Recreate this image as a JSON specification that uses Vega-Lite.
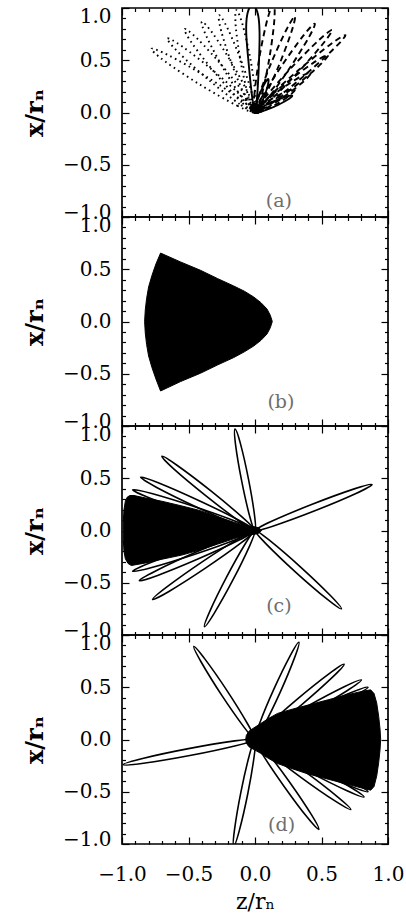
{
"$schema": "https://vega.github.io/schema/vega-lite/v6.json",
"background": "white",
"padding": {"left": 22, "top": 5, "right": 10, "bottom": 3},
"bounds": "flush",
"spacing": 0,
"config": {
  "view": {"stroke": "black", "strokeWidth": 1.7},
  "axis": {"tickColor": "black", "tickWidth": 1.2, "labelFont": "DejaVu Serif", "labelFontSize": 20, "labelColor": "black", "titleFont": "DejaVu Serif", "titleColor": "black", "grid": false, "domain": false, "labelOverlap": false}
},
"datasets": {
"labels": [
 {"p":"a","t":"(a)","z":0.18,"x":-0.85},
 {"p":"b","t":"(b)","z":0.195,"x":-0.77},
 {"p":"c","t":"(c)","z":0.18,"x":-0.72},
 {"p":"d","t":"(d)","z":0.2,"x":-0.82}
],
"fills": [
 {"p":"a","k":"fa","i":0,"z":0.06,"x":0.03},{"p":"a","k":"fa","i":1,"z":0.04,"x":0.07},{"p":"a","k":"fa","i":2,"z":0.0,"x":0.09},{"p":"a","k":"fa","i":3,"z":-0.03,"x":0.07},{"p":"a","k":"fa","i":4,"z":-0.035,"x":0.03},{"p":"a","k":"fa","i":5,"z":-0.015,"x":-0.005},{"p":"a","k":"fa","i":6,"z":0.025,"x":-0.01},
 {"p":"b","k":"fb","i":0,"z":0.13,"x":0},{"p":"b","k":"fb","i":1,"z":0.115,"x":0.06},{"p":"b","k":"fb","i":2,"z":0.09,"x":0.12},{"p":"b","k":"fb","i":3,"z":0.045,"x":0.18},{"p":"b","k":"fb","i":4,"z":-0.01,"x":0.235},{"p":"b","k":"fb","i":5,"z":-0.08,"x":0.29},{"p":"b","k":"fb","i":6,"z":-0.16,"x":0.34},{"p":"b","k":"fb","i":7,"z":-0.28,"x":0.41},{"p":"b","k":"fb","i":8,"z":-0.41,"x":0.49},{"p":"b","k":"fb","i":9,"z":-0.56,"x":0.57},{"p":"b","k":"fb","i":10,"z":-0.71,"x":0.655},{"p":"b","k":"fb","i":11,"z":-0.745,"x":0.55},{"p":"b","k":"fb","i":12,"z":-0.775,"x":0.44},{"p":"b","k":"fb","i":13,"z":-0.8,"x":0.33},{"p":"b","k":"fb","i":14,"z":-0.815,"x":0.22},{"p":"b","k":"fb","i":15,"z":-0.825,"x":0.11},{"p":"b","k":"fb","i":16,"z":-0.83,"x":0},{"p":"b","k":"fb","i":17,"z":-0.825,"x":-0.11},{"p":"b","k":"fb","i":18,"z":-0.815,"x":-0.22},{"p":"b","k":"fb","i":19,"z":-0.8,"x":-0.33},{"p":"b","k":"fb","i":20,"z":-0.775,"x":-0.44},{"p":"b","k":"fb","i":21,"z":-0.745,"x":-0.55},{"p":"b","k":"fb","i":22,"z":-0.71,"x":-0.665},{"p":"b","k":"fb","i":23,"z":-0.56,"x":-0.575},{"p":"b","k":"fb","i":24,"z":-0.41,"x":-0.495},{"p":"b","k":"fb","i":25,"z":-0.28,"x":-0.415},{"p":"b","k":"fb","i":26,"z":-0.16,"x":-0.345},{"p":"b","k":"fb","i":27,"z":-0.08,"x":-0.29},{"p":"b","k":"fb","i":28,"z":-0.01,"x":-0.235},{"p":"b","k":"fb","i":29,"z":0.045,"x":-0.18},{"p":"b","k":"fb","i":30,"z":0.09,"x":-0.12},{"p":"b","k":"fb","i":31,"z":0.115,"x":-0.06},
 {"p":"c","k":"fc","i":0,"z":0.05,"x":0},{"p":"c","k":"fc","i":1,"z":0.03,"x":0.025},{"p":"c","k":"fc","i":2,"z":0.0,"x":0.035},{"p":"c","k":"fc","i":3,"z":-0.08,"x":0.05},{"p":"c","k":"fc","i":4,"z":-0.16,"x":0.08},{"p":"c","k":"fc","i":5,"z":-0.28,"x":0.13},{"p":"c","k":"fc","i":6,"z":-0.41,"x":0.19},{"p":"c","k":"fc","i":7,"z":-0.55,"x":0.235},{"p":"c","k":"fc","i":8,"z":-0.7,"x":0.28},{"p":"c","k":"fc","i":9,"z":-0.82,"x":0.31},{"p":"c","k":"fc","i":10,"z":-0.91,"x":0.335},{"p":"c","k":"fc","i":11,"z":-0.94,"x":0.335},{"p":"c","k":"fc","i":12,"z":-0.96,"x":0.32},{"p":"c","k":"fc","i":13,"z":-0.975,"x":0.28},{"p":"c","k":"fc","i":14,"z":-0.985,"x":0.2},{"p":"c","k":"fc","i":15,"z":-0.99,"x":0.1},{"p":"c","k":"fc","i":16,"z":-0.99,"x":0},{"p":"c","k":"fc","i":17,"z":-0.99,"x":-0.1},{"p":"c","k":"fc","i":18,"z":-0.985,"x":-0.2},{"p":"c","k":"fc","i":19,"z":-0.975,"x":-0.27},{"p":"c","k":"fc","i":20,"z":-0.955,"x":-0.315},{"p":"c","k":"fc","i":21,"z":-0.93,"x":-0.335},{"p":"c","k":"fc","i":22,"z":-0.82,"x":-0.31},{"p":"c","k":"fc","i":23,"z":-0.7,"x":-0.275},{"p":"c","k":"fc","i":24,"z":-0.55,"x":-0.235},{"p":"c","k":"fc","i":25,"z":-0.41,"x":-0.185},{"p":"c","k":"fc","i":26,"z":-0.28,"x":-0.13},{"p":"c","k":"fc","i":27,"z":-0.16,"x":-0.08},{"p":"c","k":"fc","i":28,"z":-0.08,"x":-0.05},{"p":"c","k":"fc","i":29,"z":0.0,"x":-0.035},{"p":"c","k":"fc","i":30,"z":0.03,"x":-0.025},
 {"p":"d","k":"fd","i":0,"z":-0.07,"x":0},{"p":"d","k":"fd","i":1,"z":-0.065,"x":0.04},{"p":"d","k":"fd","i":2,"z":-0.045,"x":0.08},{"p":"d","k":"fd","i":3,"z":-0.01,"x":0.11},{"p":"d","k":"fd","i":4,"z":0.04,"x":0.15},{"p":"d","k":"fd","i":5,"z":0.1,"x":0.2},{"p":"d","k":"fd","i":6,"z":0.17,"x":0.25},{"p":"d","k":"fd","i":7,"z":0.28,"x":0.29},{"p":"d","k":"fd","i":8,"z":0.4,"x":0.33},{"p":"d","k":"fd","i":9,"z":0.55,"x":0.38},{"p":"d","k":"fd","i":10,"z":0.7,"x":0.43},{"p":"d","k":"fd","i":11,"z":0.82,"x":0.465},{"p":"d","k":"fd","i":12,"z":0.87,"x":0.475},{"p":"d","k":"fd","i":13,"z":0.895,"x":0.44},{"p":"d","k":"fd","i":14,"z":0.915,"x":0.35},{"p":"d","k":"fd","i":15,"z":0.93,"x":0.22},{"p":"d","k":"fd","i":16,"z":0.94,"x":0.1},{"p":"d","k":"fd","i":17,"z":0.945,"x":0},{"p":"d","k":"fd","i":18,"z":0.94,"x":-0.1},{"p":"d","k":"fd","i":19,"z":0.93,"x":-0.22},{"p":"d","k":"fd","i":20,"z":0.915,"x":-0.35},{"p":"d","k":"fd","i":21,"z":0.895,"x":-0.45},{"p":"d","k":"fd","i":22,"z":0.87,"x":-0.485},{"p":"d","k":"fd","i":23,"z":0.82,"x":-0.47},{"p":"d","k":"fd","i":24,"z":0.7,"x":-0.43},{"p":"d","k":"fd","i":25,"z":0.55,"x":-0.38},{"p":"d","k":"fd","i":26,"z":0.4,"x":-0.33},{"p":"d","k":"fd","i":27,"z":0.28,"x":-0.28},{"p":"d","k":"fd","i":28,"z":0.17,"x":-0.23},{"p":"d","k":"fd","i":29,"z":0.1,"x":-0.18},{"p":"d","k":"fd","i":30,"z":0.04,"x":-0.13},{"p":"d","k":"fd","i":31,"z":-0.01,"x":-0.095},{"p":"d","k":"fd","i":32,"z":-0.045,"x":-0.07},{"p":"d","k":"fd","i":33,"z":-0.065,"x":-0.035}
],
"petals": [
 {"p":"a","k":"a0","s":"solid","i":0,"z":0,"x":0},{"p":"a","k":"a0","s":"solid","i":1,"z":0.016,"x":0.155},{"p":"a","k":"a0","s":"solid","i":2,"z":0.029,"x":0.46},{"p":"a","k":"a0","s":"solid","i":3,"z":0.034,"x":0.77},{"p":"a","k":"a0","s":"solid","i":4,"z":0.02,"x":0.95},{"p":"a","k":"a0","s":"solid","i":5,"z":-0.02,"x":1.03},{"p":"a","k":"a0","s":"solid","i":6,"z":-0.056,"x":0.95},{"p":"a","k":"a0","s":"solid","i":7,"z":-0.066,"x":0.77},{"p":"a","k":"a0","s":"solid","i":8,"z":-0.047,"x":0.46},{"p":"a","k":"a0","s":"solid","i":9,"z":-0.022,"x":0.155},
 {"p":"a","k":"S1","s":"solid","i":0,"z":0,"x":0},{"p":"a","k":"S1","s":"solid","i":1,"z":0.037,"x":0.039},{"p":"a","k":"S1","s":"solid","i":2,"z":0.132,"x":0.102},{"p":"a","k":"S1","s":"solid","i":3,"z":0.233,"x":0.151},{"p":"a","k":"S1","s":"solid","i":4,"z":0.28,"x":0.16},{"p":"a","k":"S1","s":"solid","i":5,"z":0.243,"x":0.121},{"p":"a","k":"S1","s":"solid","i":6,"z":0.148,"x":0.058},{"p":"a","k":"S1","s":"solid","i":7,"z":0.047,"x":0.009},
 {"p":"a","k":"S2","s":"solid","i":0,"z":0,"x":0},{"p":"a","k":"S2","s":"solid","i":1,"z":0.003,"x":0.054},{"p":"a","k":"S2","s":"solid","i":2,"z":0.033,"x":0.169},{"p":"a","k":"S2","s":"solid","i":3,"z":0.073,"x":0.278},{"p":"a","k":"S2","s":"solid","i":4,"z":0.1,"x":0.32},{"p":"a","k":"S2","s":"solid","i":5,"z":0.097,"x":0.266},{"p":"a","k":"S2","s":"solid","i":6,"z":0.068,"x":0.151},{"p":"a","k":"S2","s":"solid","i":7,"z":0.027,"x":0.042},
 {"p":"a","k":"R1","s":"dash","i":0,"z":0,"x":0},{"p":"a","k":"R1","s":"dash","i":1,"z":-0.005,"x":0.162},{"p":"a","k":"R1","s":"dash","i":2,"z":0.033,"x":0.528},{"p":"a","k":"R1","s":"dash","i":3,"z":0.093,"x":0.89},{"p":"a","k":"R1","s":"dash","i":4,"z":0.14,"x":1.04},{"p":"a","k":"R1","s":"dash","i":5,"z":0.145,"x":0.878},{"p":"a","k":"R1","s":"dash","i":6,"z":0.107,"x":0.512},{"p":"a","k":"R1","s":"dash","i":7,"z":0.047,"x":0.15},
 {"p":"a","k":"R2","s":"dash","i":0,"z":0,"x":0},{"p":"a","k":"R2","s":"dash","i":1,"z":0.026,"x":0.148},{"p":"a","k":"R2","s":"dash","i":2,"z":0.122,"x":0.475},{"p":"a","k":"R2","s":"dash","i":3,"z":0.236,"x":0.792},{"p":"a","k":"R2","s":"dash","i":4,"z":0.3,"x":0.92},{"p":"a","k":"R2","s":"dash","i":5,"z":0.274,"x":0.772},{"p":"a","k":"R2","s":"dash","i":6,"z":0.178,"x":0.445},{"p":"a","k":"R2","s":"dash","i":7,"z":0.064,"x":0.128},
 {"p":"a","k":"R3","s":"dash","i":0,"z":0,"x":0},{"p":"a","k":"R3","s":"dash","i":1,"z":0.05,"x":0.143},{"p":"a","k":"R3","s":"dash","i":2,"z":0.2,"x":0.446},{"p":"a","k":"R3","s":"dash","i":3,"z":0.365,"x":0.738},{"p":"a","k":"R3","s":"dash","i":4,"z":0.45,"x":0.85},{"p":"a","k":"R3","s":"dash","i":5,"z":0.4,"x":0.708},{"p":"a","k":"R3","s":"dash","i":6,"z":0.25,"x":0.404},{"p":"a","k":"R3","s":"dash","i":7,"z":0.085,"x":0.113},
 {"p":"a","k":"R4","s":"dash","i":0,"z":0,"x":0},{"p":"a","k":"R4","s":"dash","i":1,"z":0.072,"x":0.137},{"p":"a","k":"R4","s":"dash","i":2,"z":0.268,"x":0.421},{"p":"a","k":"R4","s":"dash","i":3,"z":0.478,"x":0.69},{"p":"a","k":"R4","s":"dash","i":4,"z":0.58,"x":0.79},{"p":"a","k":"R4","s":"dash","i":5,"z":0.508,"x":0.653},{"p":"a","k":"R4","s":"dash","i":6,"z":0.312,"x":0.369},{"p":"a","k":"R4","s":"dash","i":7,"z":0.102,"x":0.1},
 {"p":"a","k":"R5","s":"dash","i":0,"z":0,"x":0},{"p":"a","k":"R5","s":"dash","i":1,"z":0.088,"x":0.131},{"p":"a","k":"R5","s":"dash","i":2,"z":0.321,"x":0.399},{"p":"a","k":"R5","s":"dash","i":3,"z":0.564,"x":0.649},{"p":"a","k":"R5","s":"dash","i":4,"z":0.68,"x":0.74},{"p":"a","k":"R5","s":"dash","i":5,"z":0.592,"x":0.609},{"p":"a","k":"R5","s":"dash","i":6,"z":0.36,"x":0.341},{"p":"a","k":"R5","s":"dash","i":7,"z":0.116,"x":0.091},
 {"p":"a","k":"R6","s":"dash","i":0,"z":0,"x":0},{"p":"a","k":"R6","s":"dash","i":1,"z":0.07,"x":0.104},{"p":"a","k":"R6","s":"dash","i":2,"z":0.256,"x":0.305},{"p":"a","k":"R6","s":"dash","i":3,"z":0.455,"x":0.489},{"p":"a","k":"R6","s":"dash","i":4,"z":0.55,"x":0.55},{"p":"a","k":"R6","s":"dash","i":5,"z":0.481,"x":0.446},{"p":"a","k":"R6","s":"dash","i":6,"z":0.294,"x":0.245},{"p":"a","k":"R6","s":"dash","i":7,"z":0.096,"x":0.061},
 {"p":"a","k":"R7","s":"dash","i":0,"z":0,"x":0},{"p":"a","k":"R7","s":"dash","i":1,"z":0.051,"x":0.079},{"p":"a","k":"R7","s":"dash","i":2,"z":0.193,"x":0.221},{"p":"a","k":"R7","s":"dash","i":3,"z":0.345,"x":0.345},{"p":"a","k":"R7","s":"dash","i":4,"z":0.42,"x":0.38},{"p":"a","k":"R7","s":"dash","i":5,"z":0.369,"x":0.301},{"p":"a","k":"R7","s":"dash","i":6,"z":0.227,"x":0.159},{"p":"a","k":"R7","s":"dash","i":7,"z":0.075,"x":0.035},
 {"p":"a","k":"R8","s":"dash","i":0,"z":0,"x":0},{"p":"a","k":"R8","s":"dash","i":1,"z":0.036,"x":0.053},{"p":"a","k":"R8","s":"dash","i":2,"z":0.137,"x":0.139},{"p":"a","k":"R8","s":"dash","i":3,"z":0.246,"x":0.207},{"p":"a","k":"R8","s":"dash","i":4,"z":0.3,"x":0.22},{"p":"a","k":"R8","s":"dash","i":5,"z":0.264,"x":0.167},{"p":"a","k":"R8","s":"dash","i":6,"z":0.163,"x":0.081},{"p":"a","k":"R8","s":"dash","i":7,"z":0.054,"x":0.013},
 {"p":"a","k":"L1","s":"dot","i":0,"z":0,"x":0},{"p":"a","k":"L1","s":"dot","i":1,"z":-0.131,"x":0.063},{"p":"a","k":"L1","s":"dot","i":2,"z":-0.41,"x":0.264},{"p":"a","k":"L1","s":"dot","i":3,"z":-0.677,"x":0.49},{"p":"a","k":"L1","s":"dot","i":4,"z":-0.78,"x":0.61},{"p":"a","k":"L1","s":"dot","i":5,"z":-0.649,"x":0.547},{"p":"a","k":"L1","s":"dot","i":6,"z":-0.37,"x":0.346},{"p":"a","k":"L1","s":"dot","i":7,"z":-0.103,"x":0.12},
 {"p":"a","k":"L2","s":"dot","i":0,"z":0,"x":0},{"p":"a","k":"L2","s":"dot","i":1,"z":-0.116,"x":0.081},{"p":"a","k":"L2","s":"dot","i":2,"z":-0.354,"x":0.318},{"p":"a","k":"L2","s":"dot","i":3,"z":-0.578,"x":0.578},{"p":"a","k":"L2","s":"dot","i":4,"z":-0.66,"x":0.71},{"p":"a","k":"L2","s":"dot","i":5,"z":-0.544,"x":0.629},{"p":"a","k":"L2","s":"dot","i":6,"z":-0.306,"x":0.392},{"p":"a","k":"L2","s":"dot","i":7,"z":-0.082,"x":0.132},
 {"p":"a","k":"L3","s":"dot","i":0,"z":0,"x":0},{"p":"a","k":"L3","s":"dot","i":1,"z":-0.1,"x":0.098},{"p":"a","k":"L3","s":"dot","i":2,"z":-0.294,"x":0.369},{"p":"a","k":"L3","s":"dot","i":3,"z":-0.471,"x":0.658},{"p":"a","k":"L3","s":"dot","i":4,"z":-0.53,"x":0.8},{"p":"a","k":"L3","s":"dot","i":5,"z":-0.43,"x":0.702},{"p":"a","k":"L3","s":"dot","i":6,"z":-0.236,"x":0.431},{"p":"a","k":"L3","s":"dot","i":7,"z":-0.059,"x":0.142},
 {"p":"a","k":"L4","s":"dot","i":0,"z":0,"x":0},{"p":"a","k":"L4","s":"dot","i":1,"z":-0.083,"x":0.114},{"p":"a","k":"L4","s":"dot","i":2,"z":-0.233,"x":0.411},{"p":"a","k":"L4","s":"dot","i":3,"z":-0.363,"x":0.723},{"p":"a","k":"L4","s":"dot","i":4,"z":-0.4,"x":0.87},{"p":"a","k":"L4","s":"dot","i":5,"z":-0.317,"x":0.756},{"p":"a","k":"L4","s":"dot","i":6,"z":-0.168,"x":0.459},{"p":"a","k":"L4","s":"dot","i":7,"z":-0.037,"x":0.147},
 {"p":"a","k":"L5","s":"dot","i":0,"z":0,"x":0},{"p":"a","k":"L5","s":"dot","i":1,"z":-0.065,"x":0.128},{"p":"a","k":"L5","s":"dot","i":2,"z":-0.17,"x":0.448},{"p":"a","k":"L5","s":"dot","i":3,"z":-0.254,"x":0.779},{"p":"a","k":"L5","s":"dot","i":4,"z":-0.27,"x":0.93},{"p":"a","k":"L5","s":"dot","i":5,"z":-0.205,"x":0.802},{"p":"a","k":"L5","s":"dot","i":6,"z":-0.1,"x":0.482},{"p":"a","k":"L5","s":"dot","i":7,"z":-0.016,"x":0.151},
 {"p":"a","k":"L6","s":"dot","i":0,"z":0,"x":0},{"p":"a","k":"L6","s":"dot","i":1,"z":-0.047,"x":0.141},{"p":"a","k":"L6","s":"dot","i":2,"z":-0.107,"x":0.481},{"p":"a","k":"L6","s":"dot","i":3,"z":-0.145,"x":0.827},{"p":"a","k":"L6","s":"dot","i":4,"z":-0.14,"x":0.98},{"p":"a","k":"L6","s":"dot","i":5,"z":-0.093,"x":0.839},{"p":"a","k":"L6","s":"dot","i":6,"z":-0.033,"x":0.499},{"p":"a","k":"L6","s":"dot","i":7,"z":0.005,"x":0.153},
 {"p":"c","k":"c1","i":0,"z":0,"x":0},{"p":"c","k":"c1","i":1,"z":-0.041,"x":0.141},{"p":"c","k":"c1","i":2,"z":-0.101,"x":0.479},{"p":"c","k":"c1","i":3,"z":-0.146,"x":0.82},{"p":"c","k":"c1","i":4,"z":-0.15,"x":0.97},{"p":"c","k":"c1","i":5,"z":-0.109,"x":0.829},{"p":"c","k":"c1","i":6,"z":-0.049,"x":0.492},{"p":"c","k":"c1","i":7,"z":-0.004,"x":0.15},
 {"p":"c","k":"c2","i":0,"z":0,"x":0},{"p":"c","k":"c2","i":1,"z":-0.117,"x":0.088},{"p":"c","k":"c2","i":2,"z":-0.366,"x":0.329},{"p":"c","k":"c2","i":3,"z":-0.607,"x":0.585},{"p":"c","k":"c2","i":4,"z":-0.7,"x":0.71},{"p":"c","k":"c2","i":5,"z":-0.584,"x":0.622},{"p":"c","k":"c2","i":6,"z":-0.334,"x":0.381},{"p":"c","k":"c2","i":7,"z":-0.094,"x":0.125},
 {"p":"c","k":"c3","i":0,"z":0,"x":0},{"p":"c","k":"c3","i":1,"z":-0.137,"x":0.055},{"p":"c","k":"c3","i":2,"z":-0.441,"x":0.225},{"p":"c","k":"c3","i":3,"z":-0.739,"x":0.412},{"p":"c","k":"c3","i":4,"z":-0.86,"x":0.51},{"p":"c","k":"c3","i":5,"z":-0.723,"x":0.455},{"p":"c","k":"c3","i":6,"z":-0.419,"x":0.285},{"p":"c","k":"c3","i":7,"z":-0.121,"x":0.098},
 {"p":"c","k":"c4","i":0,"z":0,"x":0},{"p":"c","k":"c4","i":1,"z":-0.144,"x":0.036},{"p":"c","k":"c4","i":2,"z":-0.468,"x":0.163},{"p":"c","k":"c4","i":3,"z":-0.788,"x":0.309},{"p":"c","k":"c4","i":4,"z":-0.92,"x":0.39},{"p":"c","k":"c4","i":5,"z":-0.776,"x":0.354},{"p":"c","k":"c4","i":6,"z":-0.452,"x":0.227},{"p":"c","k":"c4","i":7,"z":-0.132,"x":0.081},
 {"p":"c","k":"c5","i":0,"z":0,"x":0},{"p":"c","k":"c5","i":1,"z":0.125,"x":0.088},{"p":"c","k":"c5","i":2,"z":0.43,"x":0.251},{"p":"c","k":"c5","i":3,"z":0.741,"x":0.396},{"p":"c","k":"c5","i":4,"z":0.88,"x":0.44},{"p":"c","k":"c5","i":5,"z":0.755,"x":0.352},{"p":"c","k":"c5","i":6,"z":0.45,"x":0.189},{"p":"c","k":"c5","i":7,"z":0.139,"x":0.044},
 {"p":"c","k":"c6","i":0,"z":0,"x":0},{"p":"c","k":"c6","i":1,"z":0.11,"x":-0.095},{"p":"c","k":"c6","i":2,"z":0.343,"x":-0.35},{"p":"c","k":"c6","i":3,"z":0.565,"x":-0.62},{"p":"c","k":"c6","i":4,"z":0.65,"x":-0.75},{"p":"c","k":"c6","i":5,"z":0.54,"x":-0.655},{"p":"c","k":"c6","i":6,"z":0.307,"x":-0.4},{"p":"c","k":"c6","i":7,"z":0.085,"x":-0.13},
 {"p":"c","k":"c7","i":0,"z":0,"x":0},{"p":"c","k":"c7","i":1,"z":-0.041,"x":-0.149},{"p":"c","k":"c7","i":2,"z":-0.167,"x":-0.476},{"p":"c","k":"c7","i":3,"z":-0.307,"x":-0.793},{"p":"c","k":"c7","i":4,"z":-0.38,"x":-0.92},{"p":"c","k":"c7","i":5,"z":-0.339,"x":-0.771},{"p":"c","k":"c7","i":6,"z":-0.213,"x":-0.444},{"p":"c","k":"c7","i":7,"z":-0.073,"x":-0.127},
 {"p":"c","k":"c8","i":0,"z":0,"x":0},{"p":"c","k":"c8","i":1,"z":-0.105,"x":-0.119},{"p":"c","k":"c8","i":2,"z":-0.37,"x":-0.358},{"p":"c","k":"c8","i":3,"z":-0.644,"x":-0.581},{"p":"c","k":"c8","i":4,"z":-0.77,"x":-0.66},{"p":"c","k":"c8","i":5,"z":-0.665,"x":-0.542},{"p":"c","k":"c8","i":6,"z":-0.4,"x":-0.302},{"p":"c","k":"c8","i":7,"z":-0.126,"x":-0.08},
 {"p":"c","k":"c9","i":0,"z":0,"x":0},{"p":"c","k":"c9","i":1,"z":-0.123,"x":-0.094},{"p":"c","k":"c9","i":2,"z":-0.425,"x":-0.271},{"p":"c","k":"c9","i":3,"z":-0.732,"x":-0.43},{"p":"c","k":"c9","i":4,"z":-0.87,"x":-0.48},{"p":"c","k":"c9","i":5,"z":-0.747,"x":-0.387},{"p":"c","k":"c9","i":6,"z":-0.446,"x":-0.209},{"p":"c","k":"c9","i":7,"z":-0.138,"x":-0.051},
 {"p":"c","k":"c10","i":0,"z":0,"x":0},{"p":"c","k":"c10","i":1,"z":-0.144,"x":-0.036},{"p":"c","k":"c10","i":2,"z":-0.468,"x":-0.163},{"p":"c","k":"c10","i":3,"z":-0.788,"x":-0.309},{"p":"c","k":"c10","i":4,"z":-0.92,"x":-0.39},{"p":"c","k":"c10","i":5,"z":-0.776,"x":-0.354},{"p":"c","k":"c10","i":6,"z":-0.452,"x":-0.227},{"p":"c","k":"c10","i":7,"z":-0.132,"x":-0.081},
 {"p":"d","k":"d1","i":0,"z":0,"x":0},{"p":"d","k":"d1","i":1,"z":-0.084,"x":0.121},{"p":"d","k":"d1","i":2,"z":-0.252,"x":0.427},{"p":"d","k":"d1","i":3,"z":-0.406,"x":0.744},{"p":"d","k":"d1","i":4,"z":-0.46,"x":0.89},{"p":"d","k":"d1","i":5,"z":-0.376,"x":0.769},{"p":"d","k":"d1","i":6,"z":-0.208,"x":0.463},{"p":"d","k":"d1","i":7,"z":-0.054,"x":0.146},
 {"p":"d","k":"d2","i":0,"z":0,"x":0},{"p":"d","k":"d2","i":1,"z":0.033,"x":0.149},{"p":"d","k":"d2","i":2,"z":0.141,"x":0.479},{"p":"d","k":"d2","i":3,"z":0.264,"x":0.8},{"p":"d","k":"d2","i":4,"z":0.33,"x":0.93},{"p":"d","k":"d2","i":5,"z":0.297,"x":0.781},{"p":"d","k":"d2","i":6,"z":0.189,"x":0.451},{"p":"d","k":"d2","i":7,"z":0.066,"x":0.13},
 {"p":"d","k":"d3","i":0,"z":0,"x":0},{"p":"d","k":"d3","i":1,"z":0.089,"x":0.126},{"p":"d","k":"d3","i":2,"z":0.318,"x":0.386},{"p":"d","k":"d3","i":3,"z":0.558,"x":0.63},{"p":"d","k":"d3","i":4,"z":0.67,"x":0.72},{"p":"d","k":"d3","i":5,"z":0.581,"x":0.594},{"p":"d","k":"d3","i":6,"z":0.352,"x":0.334},{"p":"d","k":"d3","i":7,"z":0.112,"x":0.09},
 {"p":"d","k":"d4","i":0,"z":0,"x":0},{"p":"d","k":"d4","i":1,"z":0.111,"x":0.106},{"p":"d","k":"d4","i":2,"z":0.387,"x":0.314},{"p":"d","k":"d4","i":3,"z":0.671,"x":0.505},{"p":"d","k":"d4","i":4,"z":0.8,"x":0.57},{"p":"d","k":"d4","i":5,"z":0.689,"x":0.464},{"p":"d","k":"d4","i":6,"z":0.413,"x":0.256},{"p":"d","k":"d4","i":7,"z":0.129,"x":0.065},
 {"p":"d","k":"d5","i":0,"z":0,"x":0},{"p":"d","k":"d5","i":1,"z":0.12,"x":0.096},{"p":"d","k":"d5","i":2,"z":0.414,"x":0.28},{"p":"d","k":"d5","i":3,"z":0.715,"x":0.446},{"p":"d","k":"d5","i":4,"z":0.85,"x":0.5},{"p":"d","k":"d5","i":5,"z":0.73,"x":0.404},{"p":"d","k":"d5","i":6,"z":0.436,"x":0.22},{"p":"d","k":"d5","i":7,"z":0.135,"x":0.054},
 {"p":"d","k":"d6","i":0,"z":0,"x":0},{"p":"d","k":"d6","i":1,"z":-0.145,"x":-0.059},{"p":"d","k":"d6","i":2,"z":-0.49,"x":-0.153},{"p":"d","k":"d6","i":3,"z":-0.838,"x":-0.227},{"p":"d","k":"d6","i":4,"z":-0.99,"x":-0.24},{"p":"d","k":"d6","i":5,"z":-0.845,"x":-0.181},{"p":"d","k":"d6","i":6,"z":-0.5,"x":-0.087},{"p":"d","k":"d6","i":7,"z":-0.152,"x":-0.013},
 {"p":"d","k":"d7","i":0,"z":0,"x":0},{"p":"d","k":"d7","i":1,"z":-0.006,"x":-0.158},{"p":"d","k":"d7","i":2,"z":-0.054,"x":-0.517},{"p":"d","k":"d7","i":3,"z":-0.118,"x":-0.872},{"p":"d","k":"d7","i":4,"z":-0.16,"x":-1.02},{"p":"d","k":"d7","i":5,"z":-0.154,"x":-0.862},{"p":"d","k":"d7","i":6,"z":-0.106,"x":-0.503},{"p":"d","k":"d7","i":7,"z":-0.042,"x":-0.148},
 {"p":"d","k":"d8","i":0,"z":0,"x":0},{"p":"d","k":"d8","i":1,"z":0.087,"x":-0.115},{"p":"d","k":"d8","i":2,"z":0.262,"x":-0.411},{"p":"d","k":"d8","i":3,"z":0.423,"x":-0.717},{"p":"d","k":"d8","i":4,"z":0.48,"x":-0.86},{"p":"d","k":"d8","i":5,"z":0.393,"x":-0.745},{"p":"d","k":"d8","i":6,"z":0.219,"x":-0.449},{"p":"d","k":"d8","i":7,"z":0.057,"x":-0.143},
 {"p":"d","k":"d9","i":0,"z":0,"x":0},{"p":"d","k":"d9","i":1,"z":0.119,"x":-0.082},{"p":"d","k":"d9","i":2,"z":0.376,"x":-0.308},{"p":"d","k":"d9","i":3,"z":0.623,"x":-0.551},{"p":"d","k":"d9","i":4,"z":0.72,"x":-0.67},{"p":"d","k":"d9","i":5,"z":0.601,"x":-0.588},{"p":"d","k":"d9","i":6,"z":0.345,"x":-0.362},{"p":"d","k":"d9","i":7,"z":0.097,"x":-0.119},
 {"p":"d","k":"d10","i":0,"z":0,"x":0},{"p":"d","k":"d10","i":1,"z":0.132,"x":-0.062},{"p":"d","k":"d10","i":2,"z":0.422,"x":-0.245},{"p":"d","k":"d10","i":3,"z":0.706,"x":-0.447},{"p":"d","k":"d10","i":4,"z":0.82,"x":-0.55},{"p":"d","k":"d10","i":5,"z":0.688,"x":-0.488},{"p":"d","k":"d10","i":6,"z":0.398,"x":-0.305},{"p":"d","k":"d10","i":7,"z":0.114,"x":-0.103},
 {"p":"d","k":"d11","i":0,"z":0,"x":0},{"p":"d","k":"d11","i":1,"z":0.12,"x":-0.096},{"p":"d","k":"d11","i":2,"z":0.414,"x":-0.28},{"p":"d","k":"d11","i":3,"z":0.715,"x":-0.446},{"p":"d","k":"d11","i":4,"z":0.85,"x":-0.5},{"p":"d","k":"d11","i":5,"z":0.73,"x":-0.404},{"p":"d","k":"d11","i":6,"z":0.436,"x":-0.22},{"p":"d","k":"d11","i":7,"z":0.135,"x":-0.054}
]
},
"vconcat": [
{
 "width": 266, "height": 209,
 "layer": [
  {"data": {"name": "fills"}, "transform": [{"filter": "datum.p=='a'"}],
   "mark": {"type": "line", "interpolate": "linear-closed", "fill": "black", "stroke": "black", "strokeWidth": 1, "clip": true},
   "encoding": {
    "x": {"field": "z", "type": "quantitative", "scale": {"domain": [-1, 1], "nice": false, "zero": false},
      "axis": {"orient": "bottom", "values": [-1,-0.9,-0.8,-0.7,-0.6,-0.5,-0.4,-0.3,-0.2,-0.1,0,0.1,0.2,0.3,0.4,0.5,0.6,0.7,0.8,0.9,1], "labels": false, "title": null, "tickSize": {"condition": {"test": "abs(datum.value*2-round(datum.value*2))<0.01", "value": -7}, "value": -3.5}}},
    "y": {"field": "x", "type": "quantitative", "scale": {"domain": [-1, 1], "nice": false, "zero": false},
      "axis": {"orient": "left", "values": [-1,-0.9,-0.8,-0.7,-0.6,-0.5,-0.4,-0.3,-0.2,-0.1,0,0.1,0.2,0.3,0.4,0.5,0.6,0.7,0.8,0.9,1], "labelExpr": "abs(datum.value*2-round(datum.value*2))<0.01 ? format(datum.value,'.1f') : ''", "labelFlush": false, "labelPadding": 18, "labelOffset": {"condition": [{"test": "datum.value>0.99", "value": 8}, {"test": "datum.value<-0.99", "value": -5}], "value": 0}, "tickSize": {"condition": {"test": "abs(datum.value*2-round(datum.value*2))<0.01", "value": -7}, "value": -3.5}, "title": "x/rₙ", "titleFontSize": 24, "titleFontWeight": "bold", "titleAngle": -90, "titleX": -87, "titleY": 104.5, "titleAlign": "center", "titleBaseline": "middle"}},
    "order": {"field": "i", "type": "quantitative"},
    "detail": {"field": "k", "type": "nominal"}
   }},
  {"data": {"name": "petals"}, "transform": [{"filter": "datum.p=='a'"}],
   "mark": {"type": "line", "interpolate": "cardinal-closed", "stroke": "black", "strokeWidth": 1.9, "clip": true},
   "encoding": {
    "x": {"field": "z", "type": "quantitative", "scale": {"domain": [-1, 1], "nice": false, "zero": false}, "axis": null},
    "y": {"field": "x", "type": "quantitative", "scale": {"domain": [-1, 1], "nice": false, "zero": false}, "axis": null},
    "order": {"field": "i", "type": "quantitative"},
    "detail": {"field": "k", "type": "nominal"},
    "strokeDash": {"field": "s", "type": "nominal", "scale": {"domain": ["solid", "dash", "dot"], "range": [[1, 0], [6, 4], [1.6, 3.6]]}, "legend": null}
   }},
  {"data": {"name": "labels"}, "transform": [{"filter": "datum.p=='a'"}],
   "mark": {"type": "text", "font": "DejaVu Serif", "fontSize": 19, "color": "#6e6e6e"},
   "encoding": {
    "x": {"field": "z", "type": "quantitative", "scale": {"domain": [-1, 1], "nice": false, "zero": false},
      "axis": {"orient": "top", "values": [-1,-0.9,-0.8,-0.7,-0.6,-0.5,-0.4,-0.3,-0.2,-0.1,0,0.1,0.2,0.3,0.4,0.5,0.6,0.7,0.8,0.9,1], "labels": false, "title": null, "tickSize": {"condition": {"test": "abs(datum.value*2-round(datum.value*2))<0.01", "value": -7}, "value": -3.5}}},
    "y": {"field": "x", "type": "quantitative", "scale": {"domain": [-1, 1], "nice": false, "zero": false},
      "axis": {"orient": "right", "values": [-1,-0.9,-0.8,-0.7,-0.6,-0.5,-0.4,-0.3,-0.2,-0.1,0,0.1,0.2,0.3,0.4,0.5,0.6,0.7,0.8,0.9,1], "labels": false, "title": null, "tickSize": {"condition": {"test": "abs(datum.value*2-round(datum.value*2))<0.01", "value": -7}, "value": -3.5}}},
    "text": {"field": "t"}
   }}
 ],
 "resolve": {"axis": {"x": "independent", "y": "independent"}}
},
{
 "width": 266, "height": 209,
 "layer": [
  {"data": {"name": "fills"}, "transform": [{"filter": "datum.p=='b'"}],
   "mark": {"type": "line", "interpolate": "linear-closed", "fill": "black", "stroke": "black", "strokeWidth": 1, "clip": true},
   "encoding": {
    "x": {"field": "z", "type": "quantitative", "scale": {"domain": [-1, 1], "nice": false, "zero": false},
      "axis": {"orient": "bottom", "values": [-1,-0.9,-0.8,-0.7,-0.6,-0.5,-0.4,-0.3,-0.2,-0.1,0,0.1,0.2,0.3,0.4,0.5,0.6,0.7,0.8,0.9,1], "labels": false, "title": null, "tickSize": {"condition": {"test": "abs(datum.value*2-round(datum.value*2))<0.01", "value": -7}, "value": -3.5}}},
    "y": {"field": "x", "type": "quantitative", "scale": {"domain": [-1, 1], "nice": false, "zero": false},
      "axis": {"orient": "left", "values": [-1,-0.9,-0.8,-0.7,-0.6,-0.5,-0.4,-0.3,-0.2,-0.1,0,0.1,0.2,0.3,0.4,0.5,0.6,0.7,0.8,0.9,1], "labelExpr": "abs(datum.value*2-round(datum.value*2))<0.01 ? format(datum.value,'.1f') : ''", "labelFlush": false, "labelPadding": 18, "labelOffset": {"condition": [{"test": "datum.value>0.99", "value": 8}, {"test": "datum.value<-0.99", "value": -5}], "value": 0}, "tickSize": {"condition": {"test": "abs(datum.value*2-round(datum.value*2))<0.01", "value": -7}, "value": -3.5}, "title": "x/rₙ", "titleFontSize": 24, "titleFontWeight": "bold", "titleAngle": -90, "titleX": -87, "titleY": 104.5, "titleAlign": "center", "titleBaseline": "middle"}},
    "order": {"field": "i", "type": "quantitative"},
    "detail": {"field": "k", "type": "nominal"}
   }},
  {"data": {"name": "labels"}, "transform": [{"filter": "datum.p=='b'"}],
   "mark": {"type": "text", "font": "DejaVu Serif", "fontSize": 19, "color": "#6e6e6e"},
   "encoding": {
    "x": {"field": "z", "type": "quantitative", "scale": {"domain": [-1, 1], "nice": false, "zero": false},
      "axis": {"orient": "top", "values": [-1,-0.9,-0.8,-0.7,-0.6,-0.5,-0.4,-0.3,-0.2,-0.1,0,0.1,0.2,0.3,0.4,0.5,0.6,0.7,0.8,0.9,1], "labels": false, "title": null, "tickSize": {"condition": {"test": "abs(datum.value*2-round(datum.value*2))<0.01", "value": -7}, "value": -3.5}}},
    "y": {"field": "x", "type": "quantitative", "scale": {"domain": [-1, 1], "nice": false, "zero": false},
      "axis": {"orient": "right", "values": [-1,-0.9,-0.8,-0.7,-0.6,-0.5,-0.4,-0.3,-0.2,-0.1,0,0.1,0.2,0.3,0.4,0.5,0.6,0.7,0.8,0.9,1], "labels": false, "title": null, "tickSize": {"condition": {"test": "abs(datum.value*2-round(datum.value*2))<0.01", "value": -7}, "value": -3.5}}},
    "text": {"field": "t"}
   }}
 ],
 "resolve": {"axis": {"x": "independent", "y": "independent"}}
},
{
 "width": 266, "height": 209,
 "layer": [
  {"data": {"name": "fills"}, "transform": [{"filter": "datum.p=='c'"}],
   "mark": {"type": "line", "interpolate": "linear-closed", "fill": "black", "stroke": "black", "strokeWidth": 1, "clip": true},
   "encoding": {
    "x": {"field": "z", "type": "quantitative", "scale": {"domain": [-1, 1], "nice": false, "zero": false},
      "axis": {"orient": "bottom", "values": [-1,-0.9,-0.8,-0.7,-0.6,-0.5,-0.4,-0.3,-0.2,-0.1,0,0.1,0.2,0.3,0.4,0.5,0.6,0.7,0.8,0.9,1], "labels": false, "title": null, "tickSize": {"condition": {"test": "abs(datum.value*2-round(datum.value*2))<0.01", "value": -7}, "value": -3.5}}},
    "y": {"field": "x", "type": "quantitative", "scale": {"domain": [-1, 1], "nice": false, "zero": false},
      "axis": {"orient": "left", "values": [-1,-0.9,-0.8,-0.7,-0.6,-0.5,-0.4,-0.3,-0.2,-0.1,0,0.1,0.2,0.3,0.4,0.5,0.6,0.7,0.8,0.9,1], "labelExpr": "abs(datum.value*2-round(datum.value*2))<0.01 ? format(datum.value,'.1f') : ''", "labelFlush": false, "labelPadding": 18, "labelOffset": {"condition": [{"test": "datum.value>0.99", "value": 8}, {"test": "datum.value<-0.99", "value": -5}], "value": 0}, "tickSize": {"condition": {"test": "abs(datum.value*2-round(datum.value*2))<0.01", "value": -7}, "value": -3.5}, "title": "x/rₙ", "titleFontSize": 24, "titleFontWeight": "bold", "titleAngle": -90, "titleX": -87, "titleY": 104.5, "titleAlign": "center", "titleBaseline": "middle"}},
    "order": {"field": "i", "type": "quantitative"},
    "detail": {"field": "k", "type": "nominal"}
   }},
  {"data": {"name": "petals"}, "transform": [{"filter": "datum.p=='c'"}],
   "mark": {"type": "line", "interpolate": "cardinal-closed", "stroke": "black", "strokeWidth": 1.6, "clip": true},
   "encoding": {
    "x": {"field": "z", "type": "quantitative", "scale": {"domain": [-1, 1], "nice": false, "zero": false}, "axis": null},
    "y": {"field": "x", "type": "quantitative", "scale": {"domain": [-1, 1], "nice": false, "zero": false}, "axis": null},
    "order": {"field": "i", "type": "quantitative"},
    "detail": {"field": "k", "type": "nominal"}
   }},
  {"data": {"name": "labels"}, "transform": [{"filter": "datum.p=='c'"}],
   "mark": {"type": "text", "font": "DejaVu Serif", "fontSize": 19, "color": "#6e6e6e"},
   "encoding": {
    "x": {"field": "z", "type": "quantitative", "scale": {"domain": [-1, 1], "nice": false, "zero": false},
      "axis": {"orient": "top", "values": [-1,-0.9,-0.8,-0.7,-0.6,-0.5,-0.4,-0.3,-0.2,-0.1,0,0.1,0.2,0.3,0.4,0.5,0.6,0.7,0.8,0.9,1], "labels": false, "title": null, "tickSize": {"condition": {"test": "abs(datum.value*2-round(datum.value*2))<0.01", "value": -7}, "value": -3.5}}},
    "y": {"field": "x", "type": "quantitative", "scale": {"domain": [-1, 1], "nice": false, "zero": false},
      "axis": {"orient": "right", "values": [-1,-0.9,-0.8,-0.7,-0.6,-0.5,-0.4,-0.3,-0.2,-0.1,0,0.1,0.2,0.3,0.4,0.5,0.6,0.7,0.8,0.9,1], "labels": false, "title": null, "tickSize": {"condition": {"test": "abs(datum.value*2-round(datum.value*2))<0.01", "value": -7}, "value": -3.5}}},
    "text": {"field": "t"}
   }}
 ],
 "resolve": {"axis": {"x": "independent", "y": "independent"}}
},
{
 "width": 266, "height": 209,
 "layer": [
  {"data": {"name": "fills"}, "transform": [{"filter": "datum.p=='d'"}],
   "mark": {"type": "line", "interpolate": "linear-closed", "fill": "black", "stroke": "black", "strokeWidth": 1, "clip": true},
   "encoding": {
    "x": {"field": "z", "type": "quantitative", "scale": {"domain": [-1, 1], "nice": false, "zero": false},
      "axis": {"orient": "bottom", "values": [-1,-0.9,-0.8,-0.7,-0.6,-0.5,-0.4,-0.3,-0.2,-0.1,0,0.1,0.2,0.3,0.4,0.5,0.6,0.7,0.8,0.9,1], "labelExpr": "abs(datum.value*2-round(datum.value*2))<0.01 ? format(datum.value,'.1f') : ''", "labelFlush": false, "labelPadding": 27, "tickSize": {"condition": {"test": "abs(datum.value*2-round(datum.value*2))<0.01", "value": -7}, "value": -3.5}, "title": "z/rₙ", "titleFontSize": 22, "titleFontWeight": "normal", "titleX": 133, "titleY": 57, "titleAlign": "center", "titleBaseline": "middle"}},
    "y": {"field": "x", "type": "quantitative", "scale": {"domain": [-1, 1], "nice": false, "zero": false},
      "axis": {"orient": "left", "values": [-1,-0.9,-0.8,-0.7,-0.6,-0.5,-0.4,-0.3,-0.2,-0.1,0,0.1,0.2,0.3,0.4,0.5,0.6,0.7,0.8,0.9,1], "labelExpr": "abs(datum.value*2-round(datum.value*2))<0.01 ? format(datum.value,'.1f') : ''", "labelFlush": false, "labelPadding": 18, "labelOffset": {"condition": [{"test": "datum.value>0.99", "value": 8}, {"test": "datum.value<-0.99", "value": -5}], "value": 0}, "tickSize": {"condition": {"test": "abs(datum.value*2-round(datum.value*2))<0.01", "value": -7}, "value": -3.5}, "title": "x/rₙ", "titleFontSize": 24, "titleFontWeight": "bold", "titleAngle": -90, "titleX": -87, "titleY": 104.5, "titleAlign": "center", "titleBaseline": "middle"}},
    "order": {"field": "i", "type": "quantitative"},
    "detail": {"field": "k", "type": "nominal"}
   }},
  {"data": {"name": "petals"}, "transform": [{"filter": "datum.p=='d'"}],
   "mark": {"type": "line", "interpolate": "cardinal-closed", "stroke": "black", "strokeWidth": 1.6, "clip": true},
   "encoding": {
    "x": {"field": "z", "type": "quantitative", "scale": {"domain": [-1, 1], "nice": false, "zero": false}, "axis": null},
    "y": {"field": "x", "type": "quantitative", "scale": {"domain": [-1, 1], "nice": false, "zero": false}, "axis": null},
    "order": {"field": "i", "type": "quantitative"},
    "detail": {"field": "k", "type": "nominal"}
   }},
  {"data": {"name": "labels"}, "transform": [{"filter": "datum.p=='d'"}],
   "mark": {"type": "text", "font": "DejaVu Serif", "fontSize": 19, "color": "#6e6e6e"},
   "encoding": {
    "x": {"field": "z", "type": "quantitative", "scale": {"domain": [-1, 1], "nice": false, "zero": false},
      "axis": {"orient": "top", "values": [-1,-0.9,-0.8,-0.7,-0.6,-0.5,-0.4,-0.3,-0.2,-0.1,0,0.1,0.2,0.3,0.4,0.5,0.6,0.7,0.8,0.9,1], "labels": false, "title": null, "tickSize": {"condition": {"test": "abs(datum.value*2-round(datum.value*2))<0.01", "value": -7}, "value": -3.5}}},
    "y": {"field": "x", "type": "quantitative", "scale": {"domain": [-1, 1], "nice": false, "zero": false},
      "axis": {"orient": "right", "values": [-1,-0.9,-0.8,-0.7,-0.6,-0.5,-0.4,-0.3,-0.2,-0.1,0,0.1,0.2,0.3,0.4,0.5,0.6,0.7,0.8,0.9,1], "labels": false, "title": null, "tickSize": {"condition": {"test": "abs(datum.value*2-round(datum.value*2))<0.01", "value": -7}, "value": -3.5}}},
    "text": {"field": "t"}
   }}
 ],
 "resolve": {"axis": {"x": "independent", "y": "independent"}}
}
]
}
